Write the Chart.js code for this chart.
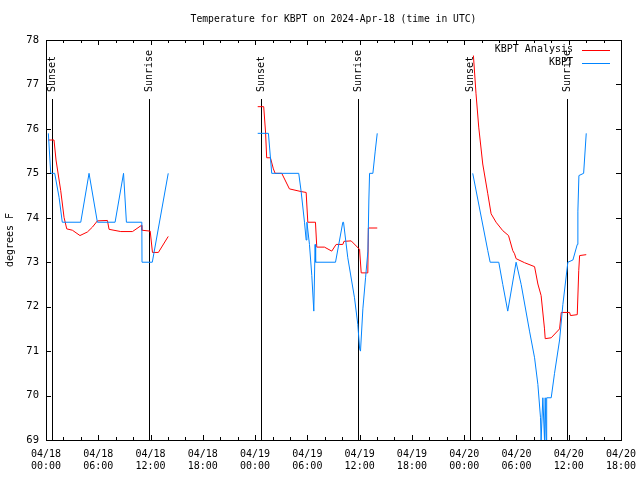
<!DOCTYPE html>
<html>
<head>
<meta charset="utf-8">
<script src="https://cdn.jsdelivr.net/npm/chart.js@4"></script>
<style>
  body { margin: 0; background: #fff; }
  canvas { display: block; }
</style>
</head>
<body>
<canvas id="tempChart" width="640" height="480"></canvas>
<script>
// hours since 04/18 00:00 UTC, null = gap between evenings
const obsHours = [0.27, 0.54, 1.00, 1.50, 1.87, 3.99, 4.94, 5.90, 7.93, 8.90, 9.23, 11.00, 11.02, 12.20, 14.03, null,
  24.30, 25.53, 25.91, 29.01, 29.28, 29.67, 29.86, 29.95, 30.24, 30.51, 30.74, 30.89, 30.95, 33.23, 34.07, 34.15,
  34.64, 35.41, 35.79, 36.00, 36.10, 36.37, 36.68, 36.95, 37.06, 37.14, 37.52, 37.79, 38.02, null,
  48.98, 50.71, 50.98, 51.97, 52.43, 53.00, 53.96, 54.54, 55.50, 56.08, 56.46, 56.76, 56.83, 57.03, 57.22, 57.30,
  57.40, 57.47, 57.99, 58.37, 58.95, 59.33, 59.90, 60.48, 60.98, 61.05, 61.17, 61.71, 62.01];
const obsTemps = [75.9, 75.0, 75.0, 74.46, 73.9, 73.9, 75.0, 73.9, 73.9, 75.0, 73.9, 73.9, 73.0, 73.0, 75.0, null,
  75.9, 75.9, 75.0, 75.0, 74.6, 73.9, 73.5, 73.9, 73.4, 72.7, 71.9, 73.4, 73.0, 73.0, 73.9, 73.9,
  73.1, 72.2, 71.6, 71.05, 71.0, 71.95, 72.65, 73.25, 74.4, 75.0, 75.0, 75.5, 75.9, null,
  75.0, 73.26, 73.0, 73.0, 72.5, 71.9, 73.0, 72.5, 71.45, 70.85, 70.25, 69.5, 69.0, 69.95, 69.0, 69.95,
  69.0, 69.95, 69.95, 70.5, 71.25, 72.05, 73.0, 73.05, 73.4, 74.15, 74.95, 75.0, 75.9];

const anaHours = [0.27, 0.92, 1.15, 1.69, 2.07, 2.38, 3.03, 3.90, 4.75, 5.33, 5.90, 7.05, 7.24, 8.58, 9.93, 10.96,
  11.00, 11.96, 12.22, 12.90, 14.03, null,
  24.30, 24.99, 25.20, 25.33, 25.76, 26.10, 26.30, 27.06, 27.94, 29.28, 29.86, 30.05, 30.93, 31.08, 31.96, 32.80,
  33.30, 34.07, 34.20, 35.03, 35.99, 36.18, 36.94, 37.00, 38.02, null,
  49.06, 49.36, 49.67, 50.13, 50.71, 51.09, 51.66, 52.43, 53.09, 53.58, 53.78, 53.96, 54.92, 56.08, 56.46, 56.83,
  57.22, 57.30, 57.99, 58.95, 59.14, 60.10, 60.20, 60.98, 61.15, 61.25, 62.01];
const anaTemps = [75.75, 75.75, 75.3, 74.61, 74.01, 73.75, 73.72, 73.6, 73.68, 73.79, 73.93, 73.94, 73.74, 73.69, 73.69, 73.83,
  73.72, 73.7, 73.22, 73.22, 73.58, null,
  76.5, 76.5, 75.93, 75.35, 75.35, 75.1, 75.0, 75.0, 74.65, 74.59, 74.57, 73.9, 73.9, 73.34, 73.34, 73.25,
  73.4, 73.4, 73.47, 73.48, 73.29, 72.76, 72.76, 73.77, 73.77, null,
  77.65, 76.79, 76.04, 75.21, 74.54, 74.09, 73.9, 73.71, 73.6, 73.26, 73.19, 73.08, 72.99, 72.9, 72.51, 72.25,
  71.5, 71.28, 71.3, 71.5, 71.87, 71.87, 71.8, 71.82, 72.81, 73.15, 73.17];

const sunsetHours = [0.73, 24.68, 48.70];
const sunriseHours = [11.80, 35.80, 59.80];

const dayLabels = ['04/18', '04/19', '04/20'];
const hourLabels = ['00:00', '06:00', '12:00', '18:00'];

const MONO = '"DejaVu Sans Mono", monospace';

function toPoints(xs, ys) {
  return xs.map((x, i) => ({ x: x === null ? null : x, y: ys[i] }));
}

// frame, inward ticks, title, legend and sunrise/sunset markers, gnuplot style
const overlay = {
  id: 'overlay',
  beforeDatasetsDraw(chart) {
    const { ctx, chartArea: a, scales: { x } } = chart;
    ctx.save();
    ctx.strokeStyle = '#000';
    ctx.lineWidth = 1;
    sunsetHours.concat(sunriseHours).forEach(h => {
      const px = Math.round(x.getPixelForValue(h)) + 0.5;
      ctx.beginPath();
      ctx.moveTo(px, a.top + 59);
      ctx.lineTo(px, a.bottom);
      ctx.stroke();
    });
    ctx.restore();
  },
  afterDraw(chart) {
    const { ctx, chartArea: a, scales: { x, y } } = chart;
    ctx.save();
    ctx.strokeStyle = '#000';
    ctx.lineWidth = 1;
    ctx.strokeRect(Math.round(a.left) + 0.5, Math.round(a.top) + 0.5,
      Math.round(a.right - a.left), Math.round(a.bottom - a.top));

    ctx.beginPath();
    for (let h = 0; h <= 66; h += 2) {
      const px = Math.round(x.getPixelForValue(h)) + 0.5;
      const len = h % 6 === 0 ? 5 : 3;
      ctx.moveTo(px, a.bottom); ctx.lineTo(px, a.bottom - len);
      ctx.moveTo(px, a.top); ctx.lineTo(px, a.top + len);
    }
    for (let t = 69; t <= 78; t++) {
      const py = Math.round(y.getPixelForValue(t)) + 0.5;
      ctx.moveTo(a.left, py); ctx.lineTo(a.left + 5, py);
      ctx.moveTo(a.right, py); ctx.lineTo(a.right - 5, py);
    }
    ctx.stroke();

    // sun labels
    ctx.fillStyle = '#000';
    ctx.font = '10px ' + MONO;
    ctx.textAlign = 'left';
    ctx.textBaseline = 'middle';
    const label = (hours, text) => hours.forEach(h => {
      ctx.save();
      ctx.translate(Math.round(x.getPixelForValue(h)) + 0.5, a.top + 52);
      ctx.rotate(-Math.PI / 2);
      ctx.fillText(text, 0, 0);
      ctx.restore();
    });
    label(sunsetHours, 'Sunset');
    label(sunriseHours, 'Sunrise');

    // title
    ctx.font = '9.7px ' + MONO;
    ctx.textAlign = 'center';
    ctx.fillText('Temperature for KBPT on 2024-Apr-18 (time in UTC)', (a.left + a.right) / 2, 19.5);

    // legend
    ctx.font = '10px ' + MONO;
    ctx.textAlign = 'right';
    chart.data.datasets.forEach((ds, i) => {
      const ly = a.top + 9.5 + i * 13;
      ctx.fillStyle = '#000';
      ctx.fillText(ds.label, a.right - 48, ly);
      ctx.strokeStyle = ds.borderColor;
      ctx.beginPath();
      ctx.moveTo(a.right - 39, Math.round(ly) + 0.5);
      ctx.lineTo(a.right - 11, Math.round(ly) + 0.5);
      ctx.stroke();
    });
    ctx.restore();
  }
};

new Chart(document.getElementById('tempChart'), {
  type: 'line',
  data: {
    datasets: [
      {
        label: 'KBPT Analysis',
        data: toPoints(anaHours, anaTemps),
        borderColor: '#ff0000',
        borderWidth: 1,
        pointRadius: 0,
        tension: 0,
        spanGaps: false,
        order: 1
      },
      {
        label: 'KBPT',
        data: toPoints(obsHours, obsTemps),
        borderColor: '#0084ff',
        borderWidth: 1,
        pointRadius: 0,
        tension: 0,
        spanGaps: false,
        order: 0
      }
    ]
  },
  options: {
    responsive: false,
    animation: false,
    layout: { padding: { top: 40, right: 19, left: 0, bottom: 0 } },
    plugins: { legend: { display: false }, tooltip: { enabled: false }, title: { display: false } },
    scales: {
      x: {
        type: 'linear',
        min: 0,
        max: 66,
        grid: { display: false, drawTicks: false },
        border: { display: false },
        afterFit: s => { s.height = 40; s.paddingLeft = 0; s.paddingRight = 0; },
        ticks: {
          stepSize: 6,
          autoSkip: false,
          maxRotation: 0,
          padding: 8,
          color: '#000',
          font: { family: MONO, size: 10 },
          callback: v => [dayLabels[Math.floor(v / 24)], hourLabels[(v % 24) / 6]]
        }
      },
      y: {
        min: 69,
        max: 78,
        grid: { display: false, drawTicks: false },
        border: { display: false },
        afterFit: s => { s.width = 46; s.paddingTop = 0; s.paddingBottom = 0; },
        title: { display: true, text: 'degrees F', color: '#000', font: { family: MONO, size: 10 }, padding: { top: 4, bottom: 0 } },
        ticks: {
          stepSize: 1,
          padding: 7,
          color: '#000',
          font: { family: MONO, size: 10.5 }
        }
      }
    }
  },
  plugins: [overlay]
});
</script>
</body>
</html>
